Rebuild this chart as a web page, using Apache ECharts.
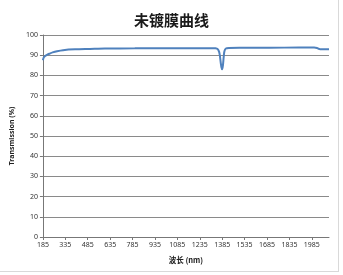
<!DOCTYPE html>
<html>
<head>
<meta charset="utf-8">
<script src="https://cdn.jsdelivr.net/npm/echarts@6/dist/echarts.min.js"></script>
<style>
html,body{margin:0;padding:0;background:#fff;}
#frame{position:absolute;left:0;top:0;width:338px;height:271px;border:1px solid #d9d9d9;border-top:none;border-left:none;}
#c{position:absolute;left:0;top:0;width:343px;height:275px;}
</style>
</head>
<body>
<div id="frame"></div>
<div id="c"></div>
<script>
const titleText = '未镀膜曲线';
const xName = '波长 (nm)';
const yName = 'Transmission (%)';
const xTickLabels = [185, 335, 485, 635, 785, 935, 1085, 1235, 1385, 1535, 1685, 1835, 1985];
const wavelength = [185, 190, 200, 215, 230, 250, 280, 320, 400, 500, 600, 800, 1000, 1200, 1300, 1340, 1355, 1365, 1370, 1375, 1380, 1385, 1390, 1395, 1400, 1410, 1430, 1500, 1700, 1900, 2000, 2020, 2030, 2040, 2060, 2100];
const transmission = [87.5, 88.8, 89.6, 90.3, 90.8, 91.4, 92.0, 92.5, 92.9, 93.1, 93.3, 93.4, 93.5, 93.5, 93.5, 93.4, 93.0, 91.5, 89.5, 86.5, 84.0, 83.0, 85.0, 89.0, 92.0, 93.3, 93.6, 93.7, 93.7, 93.8, 93.8, 93.6, 93.2, 93.0, 93.0, 93.0];

const chart = echarts.init(document.getElementById('c'), null, {renderer: 'canvas'});
chart.setOption({
  animation: false,
  title: {
    text: titleText, left: 'center', top: 8,
    textStyle: {fontFamily: 'Noto Sans CJK SC', fontSize: 15, fontWeight: 'bold', color: '#1a1a1a'}
  },
  grid: {left: 39, right: 14, top: 35, bottom: 38, containLabel: false},
  xAxis: {
    type: 'value', min: 185, max: 2100,
    name: xName, nameLocation: 'middle', nameGap: 19,
    nameTextStyle: {fontFamily: 'Noto Sans CJK SC', fontSize: 7.5, fontWeight: 'bold', color: '#222'},
    axisLine: {show: true, lineStyle: {color: '#777', width: 1}},
    axisTick: {show: true, length: 3, customValues: xTickLabels, lineStyle: {color: '#777'}},
    axisLabel: {customValues: xTickLabels, formatter: v => String(v), fontSize: 7, color: '#333', margin: 4, fontFamily: 'Noto Sans'},
    splitLine: {show: false}
  },
  yAxis: {
    type: 'value', min: 0, max: 100, interval: 10,
    name: yName, nameLocation: 'middle', nameGap: 27,
    nameTextStyle: {fontFamily: 'Noto Sans', fontSize: 7, fontWeight: 'bold', color: '#222'},
    axisLine: {show: true, lineStyle: {color: '#777', width: 1}},
    axisTick: {show: true, length: 3, lineStyle: {color: '#777'}},
    axisLabel: {formatter: v => String(v), fontSize: 7, color: '#333', margin: 5, fontFamily: 'Noto Sans'},
    splitLine: {show: true, lineStyle: {color: '#8a8a8a', width: 1}}
  },
  series: [{
    type: 'line',
    data: wavelength.map((w, i) => [w, transmission[i]]),
    showSymbol: false, smooth: 0.3,
    lineStyle: {color: '#4f81bd', width: 2},
    itemStyle: {color: '#4f81bd'}
  }]
});
</script>
</body>
</html>
